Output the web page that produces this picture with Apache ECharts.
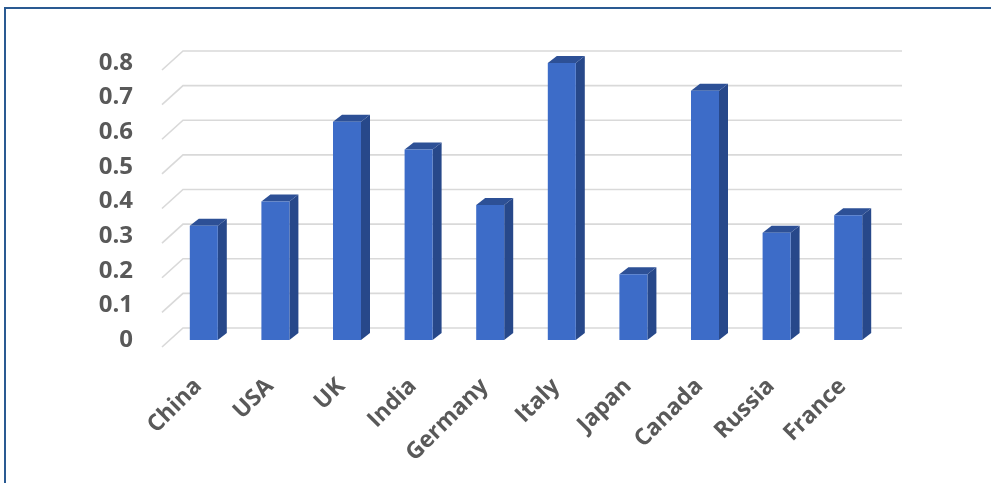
<!DOCTYPE html>
<html>
<head>
<meta charset="utf-8">
<script src="https://cdn.jsdelivr.net/npm/echarts@6/dist/echarts.min.js"></script>
<style>
html,body{margin:0;padding:0;background:#fff;}
#chart{width:991px;height:483px;}
</style>
</head>
<body>
<div id="chart"></div>
<script>
// ---- data ----
const categories = ['China', 'USA', 'UK', 'India', 'Germany', 'Italy', 'Japan', 'Canada', 'Russia', 'France'];
const values = [0.33, 0.40, 0.63, 0.55, 0.39, 0.80, 0.19, 0.72, 0.31, 0.36];
const yTicks = [0, 0.1, 0.2, 0.3, 0.4, 0.5, 0.6, 0.7, 0.8];

// ---- style ----
const FRONT = '#3d6cc8';
const SIDE = '#27488a';
const TOP = '#2d5096';
const GRID = '#d9d9d9';
const LABEL = '#595959';

const chart = echarts.init(document.getElementById('chart'), null, {renderer: 'canvas'});

function bar3d(params, api) {
  const idx = api.value(0);
  const v = api.value(1);
  const base = api.coord([idx, 0]);
  const top = api.coord([idx, v]);
  const w = 28, dx = 9, dy = 7;
  const xl = base[0] - w / 2, xr = base[0] + w / 2;
  const yt = top[1], yb = base[1];
  return {
    type: 'group',
    children: [
      {type: 'polygon', shape: {points: [[xr, yt], [xr + dx, yt - dy], [xr + dx, yb - dy], [xr, yb]]}, style: {fill: SIDE}},
      {type: 'polygon', shape: {points: [[xl, yt], [xl + dx, yt - dy], [xr + dx, yt - dy], [xr, yt]]}, style: {fill: TOP}},
      {type: 'rect', shape: {x: xl, y: yt, width: w, height: yb - yt}, style: {fill: FRONT}}
    ]
  };
}

function gridLine(params, api) {
  const cs = params.coordSys;
  const y = api.coord([0, api.value(1)])[1];
  const left = cs.x, right = cs.x + cs.width;
  return {
    type: 'polyline',
    shape: {points: [[left - 6, y + 7], [left + 15, y - 12], [right + 18, y - 12]]},
    style: {stroke: GRID, lineWidth: 1.6, fill: null}
  };
}

chart.setOption({
  animation: false,
  backgroundColor: '#ffffff',
  graphic: [{
    type: 'rect',
    shape: {x: 5, y: 8, width: 1100, height: 600},
    style: {fill: null, stroke: '#2a5a92', lineWidth: 2},
    z: 100
  }],
  grid: {left: 168, right: 107, top: 63, bottom: 143},
  xAxis: {
    type: 'category',
    data: categories,
    axisLine: {show: false},
    axisTick: {show: false},
    axisLabel: {
      rotate: 45,
      margin: 37,
      padding: [0, 8, 0, 0],
      color: LABEL,
      fontFamily: 'Open Sans',
      fontWeight: 'bold',
      fontSize: 23,
      interval: 0
    }
  },
  yAxis: {
    type: 'value',
    min: 0,
    max: 0.8,
    interval: 0.1,
    splitLine: {show: false},
    axisLine: {show: false},
    axisTick: {show: false},
    axisLabel: {
      margin: 35,
      color: LABEL,
      fontFamily: 'Open Sans',
      fontWeight: 'bold',
      fontSize: 24,
      padding: [14, 0, 0, 0]
    }
  },
  series: [
    {
      type: 'custom',
      renderItem: gridLine,
      data: yTicks.map(t => [0, t]),
      z: 1,
      silent: true
    },
    {
      type: 'custom',
      renderItem: bar3d,
      data: values.map((v, i) => [i, v]),
      z: 2
    }
  ]
});
</script>
</body>
</html>
